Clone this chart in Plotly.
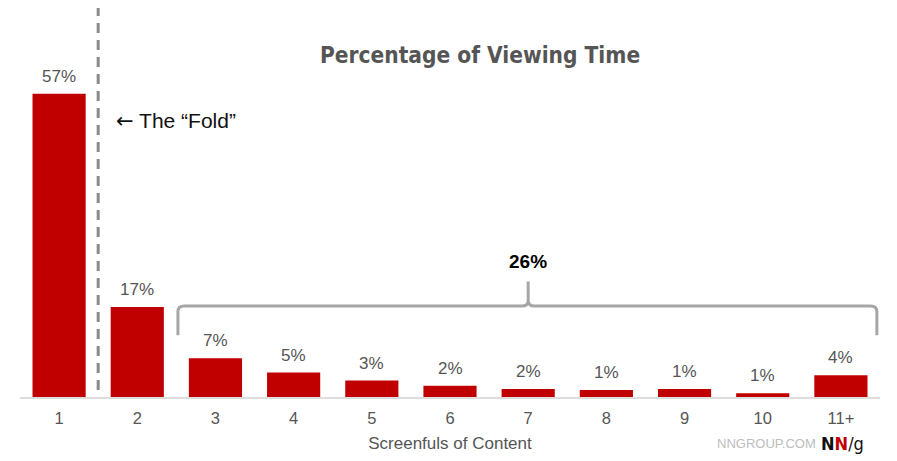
import plotly.graph_objects as go

screens = ["1", "2", "3", "4", "5", "6", "7", "8", "9", "10", "11+"]
share = [57, 16.9, 7.3, 4.6, 3.1, 2.1, 1.5, 1.3, 1.5, 0.7, 4.1]
share_labels = ["57%", "17%", "7%", "5%", "3%", "2%", "2%", "1%", "1%", "1%", "4%"]
below_fold_total = "26%"

idx = list(range(len(screens)))
red = "#c00000"
grey_txt = "#555555"
sans = "Liberation Sans, Arial"

fig = go.Figure(go.Bar(
    x=idx, y=share, width=0.68,
    marker=dict(color=red, line=dict(width=0)),
    hoverinfo="skip",
))

# value labels above bars
for i, (v, t) in enumerate(zip(share, share_labels)):
    fig.add_annotation(x=i, y=v, text=t, showarrow=False, yanchor="bottom", yshift=6,
                       font=dict(size=17, color=grey_txt, family=sans))

# fold line
fig.add_shape(type="line", x0=0.5, x1=0.5, y0=1.3, y1=73.5, xref="x", yref="y",
              line=dict(color="#8a8a8a", width=3, dash="10px,7px"))
fig.add_annotation(x=0.7, y=51.9, xref="x", yref="y", xanchor="left", yanchor="middle", showarrow=False,
                   text="<span style='font-family:DejaVu Sans'>←</span> The “Fold”",
                   font=dict(size=21, color="#111111", family=sans))

# curly brace over screens 3..11+
xl, xr, cx = 1.52, 10.46, 6.0
yb, yh, yt = 11.6, 17.1, 21.7
rx, ry = 0.08, 1.1
path = (f"M {xl},{yb} L {xl},{yh - ry} Q {xl},{yh} {xl + rx},{yh} "
        f"L {cx - rx},{yh} Q {cx},{yh} {cx},{yh + ry} L {cx},{yt} "
        f"M {cx},{yh + ry} Q {cx},{yh} {cx + rx},{yh} "
        f"L {xr - rx},{yh} Q {xr},{yh} {xr},{yh - ry} L {xr},{yb}")
fig.add_shape(type="path", path=path, xref="x", yref="y",
              line=dict(color="#a6a6a6", width=3))
fig.add_annotation(x=cx, y=25.4, yanchor="middle", text="<b>" + below_fold_total + "</b>", showarrow=False,
                   font=dict(size=19, color="#000000", family=sans))

# title
fig.add_annotation(x=0.535, y=0.879, xref="paper", yref="paper", xanchor="center", yanchor="middle",
                   showarrow=False, text="<b>Percentage of Viewing Time</b>",
                   font=dict(size=22.5, color=grey_txt,
                             family="Liberation Sans Narrow, DejaVu Sans Condensed, Arial"))

# branding
fig.add_annotation(x=0.928, y=-0.12, xref="paper", yref="paper", xanchor="right", yanchor="middle",
                   showarrow=False, text="NNGROUP.COM",
                   font=dict(size=13, color="#bdbdbd", family=sans))
fig.add_annotation(x=0.984, y=-0.12, xref="paper", yref="paper", xanchor="right", yanchor="middle",
                   showarrow=False, text="<b>N</b><span style='color:#c00000'><b>N</b></span>/g",
                   font=dict(size=18, color="#111111", family="DejaVu Sans Condensed, Liberation Sans"))

# page body has an 8px margin, so the figure is sized to fit the 897x461 window
fig.update_layout(
    width=889, height=453,
    margin=dict(l=12, r=17, t=0, b=64),
    paper_bgcolor="white", plot_bgcolor="white",
    showlegend=False,
    xaxis=dict(range=[-0.5, 10.5], tickvals=idx, ticktext=screens, showgrid=False, zeroline=False,
               showline=True, linecolor="#dddddd", linewidth=2,
               ticks="outside", ticklen=5, tickcolor="rgba(0,0,0,0)",
               tickfont=dict(size=16.5, color=grey_txt, family=sans),
               title=dict(text="Screenfuls of Content", standoff=11,
                          font=dict(size=17, color=grey_txt, family=sans))),
    yaxis=dict(range=[0, 73.1], visible=False, showgrid=False, zeroline=False),
)

fig.write_html("out.html")
